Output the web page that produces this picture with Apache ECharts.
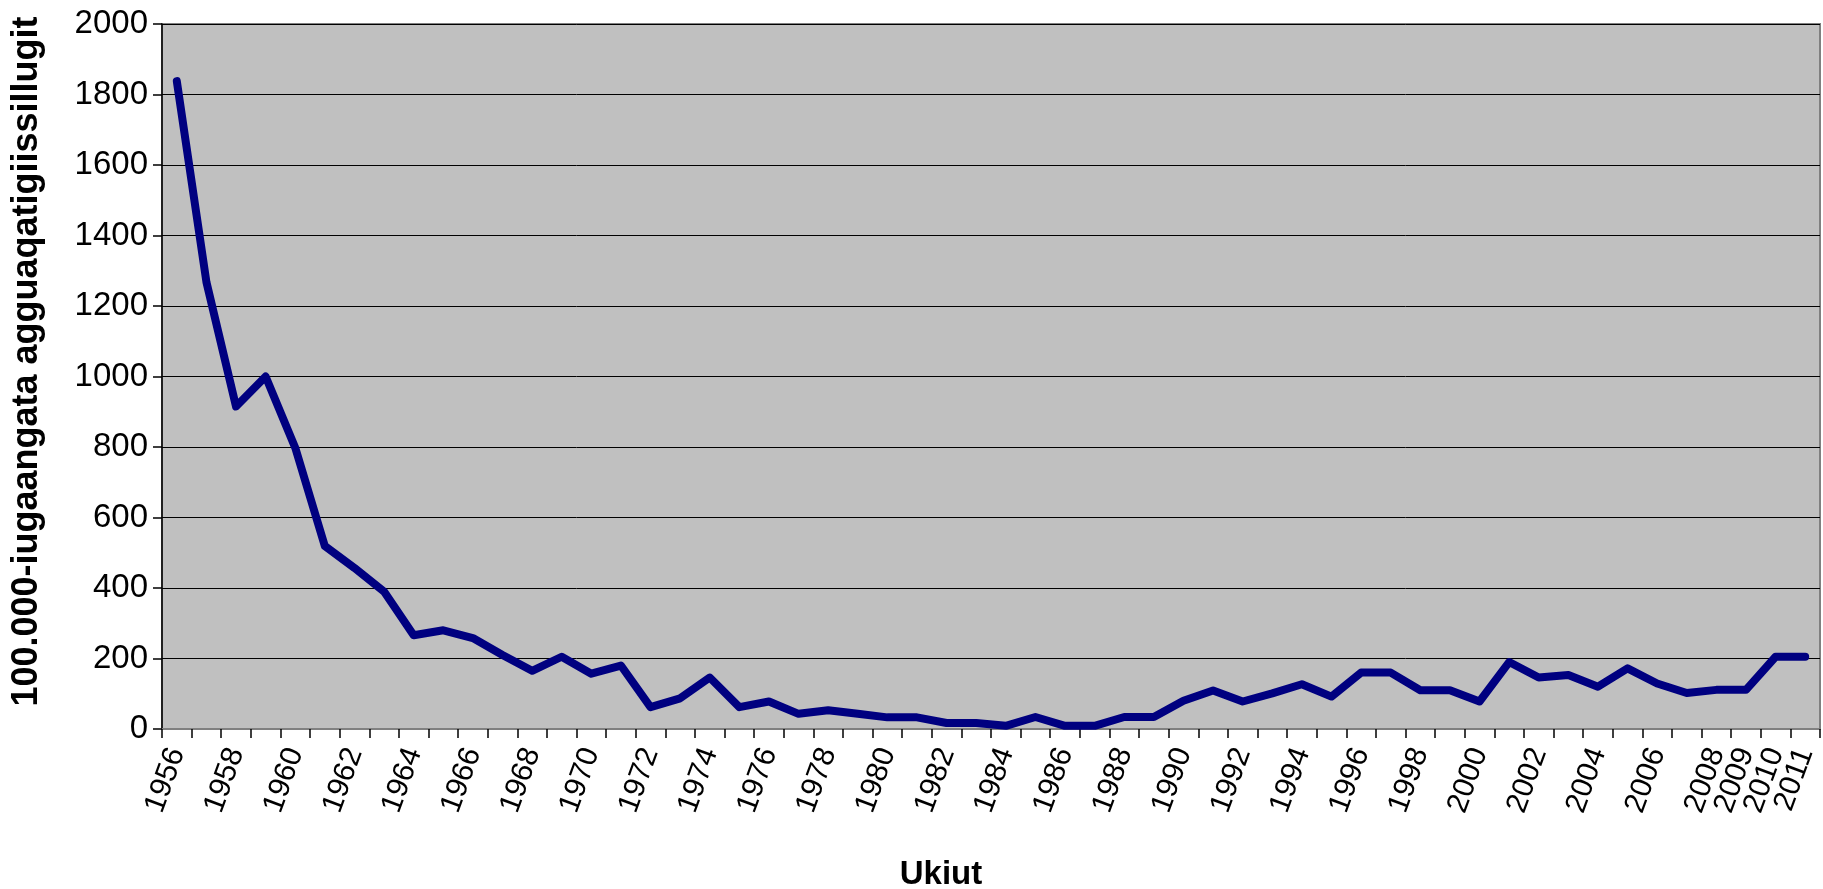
<!DOCTYPE html>
<html>
<head>
<meta charset="utf-8">
<script src="https://cdn.jsdelivr.net/npm/echarts@6/dist/echarts.min.js"></script>
<style>
html,body{margin:0;padding:0;background:#fff;}
#chart{width:1823px;height:889px;}
</style>
</head>
<body>
<div id="chart"></div>
<script>
const years = ['1956','1957','1958','1959','1960','1961','1962','1963','1964','1965',
  '1966','1967','1968','1969','1970','1971','1972','1973','1974','1975',
  '1976','1977','1978','1979','1980','1981','1982','1983','1984','1985',
  '1986','1987','1988','1989','1990','1991','1992','1993','1994','1995',
  '1996','1997','1998','1999','2000','2001','2002','2003','2004','2005',
  '2006','2007','2008','2009','2010','2011'];
const rates = [1838,1268,915,1000,798,519,457,390,266,280,
  258,210,165,205,157,180,62,87,146,62,
  78,43,53,43,33,33,17,17,9,34,
  9,9,34,34,80,109,78,101,127,92,
  160,160,110,110,78,190,146,153,120,172,
  129,102,111,111,205,205];
const yTicks = [0,200,400,600,800,1000,1200,1400,1600,1800,2000];
const yTitle = '100.000-iugaangata agguaqatigiissillugit';
const xTitle = 'Ukiut';

const chart = echarts.init(document.getElementById('chart'), null, {renderer:'canvas'});
const font = '"Liberation Sans", Arial, sans-serif';
const labelBase = {rotate:70, margin:20, fontFamily:font, fontSize:30, color:'#000', hideOverlap:false};
chart.setOption({
  animation: false,
  grid: {left:162, right:3, top:24, bottom:160, containLabel:false, outerBoundsMode:'none',
    show:true, backgroundColor:'#c0c0c0', borderColor:'#808080', borderWidth:2},
  xAxis: [{
    type:'category', data: years, boundaryGap:true, position:'bottom',
    name: xTitle, nameLocation:'middle', nameGap:129,
    nameTextStyle:{fontFamily:font, fontWeight:'bold', fontSize:33, color:'#000', padding:[0,100,0,0]},
    axisLine:{show:true, lineStyle:{color:'#808080', width:2}},
    axisTick:{show:true, interval:0, length:9, lineStyle:{color:'#000', width:1.5}},
    axisLabel: Object.assign({}, labelBase, {
      interval: function(i, v){ return v !== '2010' && (i % 2 === 0 || Number(v) >= 2008); },
      showMinLabel:true, showMaxLabel:true
    }),
    splitLine:{show:false}
  }, {
    type:'category', data: years, boundaryGap:true, position:'bottom', gridIndex:0,
    axisLine:{show:false}, axisTick:{show:false}, splitLine:{show:false},
    axisLabel: Object.assign({}, labelBase, {
      interval: function(i, v){ return v === '2010'; }
    })
  }],
  yAxis: {
    type:'value', min:yTicks[0], max:yTicks[yTicks.length-1], interval:200,
    name: yTitle, nameLocation:'middle', nameGap:117, nameRotate:90,
    nameTextStyle:{fontFamily:font, fontWeight:'bold', fontSize:36, color:'#000', padding:[0,0,0,30]},
    axisLine:{show:true, lineStyle:{color:'#000', width:1.5}},
    axisTick:{show:true, length:9, lineStyle:{color:'#000', width:1.5}},
    axisLabel:{margin:14, fontFamily:font, fontSize:33, color:'#000', formatter: v => String(v)},
    splitLine:{show:true, lineStyle:{color:'#000', width:1}}
  },
  series: [{
    type:'line', data: rates, symbol:'none', xAxisIndex:0,
    lineStyle:{color:'#000080', width:8, cap:'round', join:'round'}
  }]
});
</script>
</body>
</html>
